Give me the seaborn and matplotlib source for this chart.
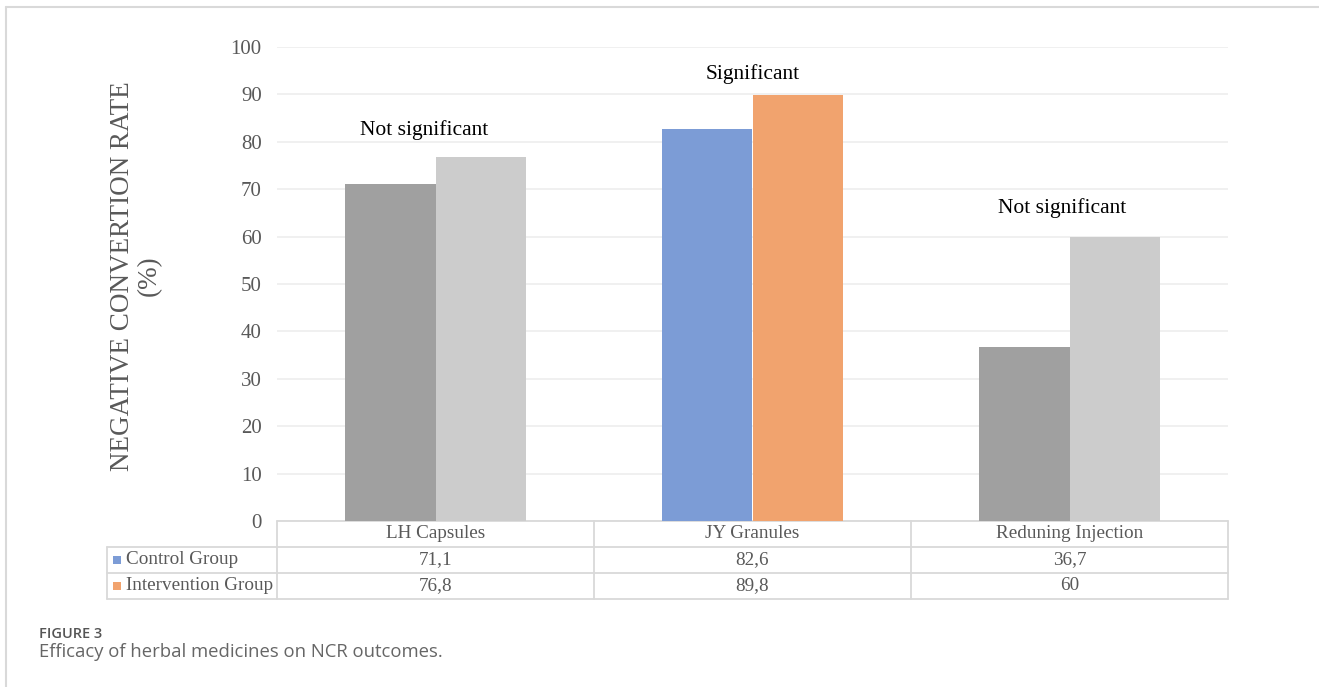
import numpy as np
import pandas as pd
import matplotlib
matplotlib.use('Agg')
import matplotlib.pyplot as plt
import seaborn as sns
from matplotlib.patches import Rectangle

drugs = ['LH Capsules', 'JY Granules', 'Reduning Injection']
groups = ['Control Group', 'Intervention Group']
control = [71.1, 82.6, 36.7]
intervention = [76.8, 89.8, 60]
notes = ['Not significant', 'Significant', 'Not significant']
note_y = [82.5, 94.2, 66.0]
note_dx = [-0.035, 0, -0.022]

df = pd.DataFrame({
    'drug': drugs * 2,
    'group': [groups[0]] * 3 + [groups[1]] * 3,
    'rate': control + intervention,
})

sns.set_style('white')
plt.rcParams['font.family'] = ['Liberation Serif', 'DejaVu Serif']

grey_dark = '#A0A0A0'
grey_light = '#CCCCCC'
blue = '#7C9CD6'
orange = '#F1A36E'
line_c = '#D9D9D9'
txt_c = '#595959'

fig = plt.figure(figsize=(13.19, 6.87), dpi=100)
ax = fig.add_axes([277/1319, 1-521/687, 951/1319, 474/687])

sns.barplot(data=df, x='drug', y='rate', hue='group', order=drugs, hue_order=groups,
            palette=[grey_dark, grey_light], width=0.574, saturation=1, legend=False, ax=ax,
            zorder=3)
# the significant group is drawn in colour
for p in ax.patches:
    cx = p.get_x() + p.get_width() / 2
    if 0.5 < cx < 1.5:
        p.set_facecolor(blue if cx < 1 else orange)
    p.set_edgecolor('none')

ax.set_xlim(-0.5, 2.5)
ax.set_ylim(0, 100)
ax.set_yticks(np.arange(0, 101, 10))
ax.yaxis.grid(True, color='#EDEDED', lw=1.2, zorder=0)
ax.set_axisbelow(True)
for s in ax.spines.values():
    s.set_visible(False)
ax.tick_params(axis='y', length=0, labelsize=15, labelcolor=txt_c, pad=11)
ax.set_xticks([])
ax.set_xlabel('')
ax.set_ylabel('')

for i, t in enumerate(notes):
    ax.text(i + note_dx[i], note_y[i], t, ha='center', va='center', fontsize=15.5, color='black')

ax.text(-0.148, 0.517, 'NEGATIVE CONVERTION RATE\n(%)', transform=ax.transAxes,
        rotation=90, ha='center', va='center', multialignment='center',
        fontsize=19.5, color=txt_c, linespacing=1.1)

# data table under the axes
rh = 26 / 474
left = -170 / 951
tr = ax.transAxes
kw = dict(color=line_c, lw=1.3, transform=tr, clip_on=False)
ax.plot([0, 1], [0, 0], **kw)
for r in range(1, 4):
    ax.plot([left, 1], [-r * rh, -r * rh], **kw)
ax.plot([left, left], [-rh, -3 * rh], **kw)
for xb in [0, 1/3, 2/3, 1]:
    ax.plot([xb, xb], [0, -3 * rh], **kw)

fs_tab = 13.75
for j, d in enumerate(drugs):
    xc = (j + 0.5) / 3
    ax.text(xc, -0.5 * rh, d, transform=tr, ha='center', va='center', fontsize=fs_tab, color=txt_c)
    ax.text(xc, -1.5 * rh, f'{control[j]:g}'.replace('.', ','), transform=tr,
            ha='center', va='center', fontsize=fs_tab, color=txt_c)
    ax.text(xc, -2.5 * rh, f'{intervention[j]:g}'.replace('.', ','), transform=tr,
            ha='center', va='center', fontsize=fs_tab, color=txt_c)

sq_w, sq_h = 8 / 951, 8 / 474
for r, (g, c) in enumerate(zip(groups, [blue, orange])):
    yc = -(r + 1.5) * rh
    ax.add_patch(Rectangle((left + 6 / 951, yc - sq_h / 2), sq_w, sq_h, transform=tr,
                           facecolor=c, edgecolor='none', clip_on=False))
    ax.text(left + 19 / 951, yc, g, transform=tr, ha='left', va='center', fontsize=fs_tab, color=txt_c)

# outer frame and caption
fig.add_artist(plt.Line2D([6/1319, 6/1319], [0, 1-7/687], color=line_c, lw=1.5))
fig.add_artist(plt.Line2D([6/1319, 1], [1-7/687, 1-7/687], color=line_c, lw=1.5))
fig.text(39/1319, 1-638/687, 'FIGURE 3', fontsize=10.5, color='#555555', family='Open Sans',
         weight='semibold', va='baseline', ha='left')
fig.text(39/1319, 1-657/687, 'Efficacy of herbal medicines on NCR outcomes.', fontsize=13.3,
         color='#666666', family='Open Sans', va='baseline', ha='left')

fig.savefig('out.png', dpi=100)
